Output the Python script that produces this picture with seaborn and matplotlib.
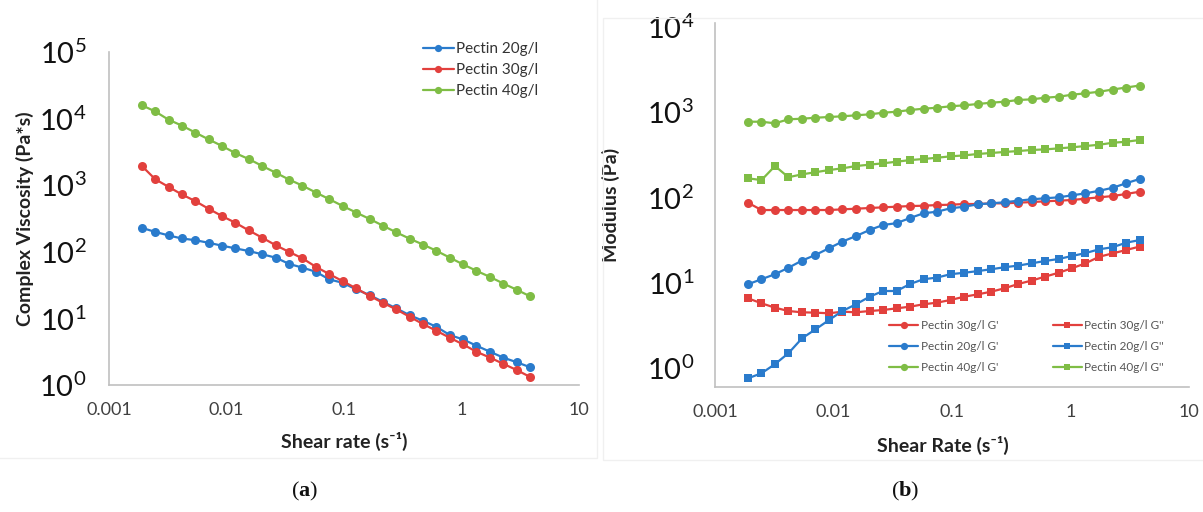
import matplotlib
matplotlib.use("Agg")
import matplotlib.pyplot as plt
import pandas as pd
import seaborn as sns
from matplotlib.patches import Rectangle

# shear rate grid shared by both panels (s-1)
shear_rate = [0.0019, 0.00247, 0.00321, 0.00417, 0.00543, 0.00705, 0.00917, 0.0119,
              0.0155, 0.0202, 0.0262, 0.0341, 0.0443, 0.0576, 0.0749, 0.0973, 0.127,
              0.165, 0.214, 0.278, 0.362, 0.470, 0.611, 0.795, 1.03, 1.34, 1.75, 2.27,
              2.95, 3.84]

# (a) complex viscosity, Pa*s
visc_20 = [230, 200, 177, 159, 150, 137, 124, 113, 103, 92, 82, 66, 58, 50.3, 38.6, 34.4,
           27.3, 22.5, 17.8, 14.2, 11.2, 9.23, 7.5, 5.63, 4.85, 3.9, 3.16, 2.58, 2.2, 1.85]
visc_30 = [1963, 1239, 949, 730, 579, 444, 345, 274, 210, 163, 126, 100, 80, 59.7, 46.4,
           36.4, 28.3, 21.9, 17.2, 13.7, 10.6, 8.24, 6.53, 5.13, 4.08, 3.16, 2.58, 2.08,
           1.68, 1.32]
visc_40 = [16000, 12900, 9700, 7900, 6200, 4900, 3900, 3050, 2480, 1950, 1550, 1220, 990,
           780, 620, 490, 390, 313, 248, 197, 158, 129, 104, 82, 65, 52, 42, 33.5, 27, 21.5]

# (b) storage / loss modulus, Pa
g1_30 = [86.9, 71.3, 71.3, 71.3, 71.3, 71.3, 71.3, 72.6, 73.9, 75.3, 76.7, 78.0, 79.4,
         80.1, 81.6, 82.3, 83.9, 83.9, 85.4, 85.4, 86.9, 88.5, 90.2, 91.8, 93.5, 96.9,
         100.5, 104, 110, 117]
g2_30 = [6.57, 5.74, 5.10, 4.66, 4.50, 4.46, 4.38, 4.58, 4.50, 4.66, 4.79, 5.01, 5.24,
         5.59, 5.84, 6.28, 6.86, 7.31, 7.85, 8.61, 9.67, 10.6, 11.8, 13.1, 14.8, 16.9,
         20.2, 22.1, 24.2, 26.6]
g1_20 = [9.6, 11.0, 12.6, 15.0, 18.2, 21.2, 25.4, 30.4, 35.3, 41.6, 47.6, 50, 57.5, 65.3,
         68.2, 74.7, 78, 83.2, 85.5, 87.9, 91.8, 95.3, 97.9, 100.5, 106, 112, 120, 130,
         147, 165]
g2_20 = [0.757, 0.867, 1.11, 1.49, 2.23, 2.84, 3.65, 4.66, 5.59, 6.86, 8.0, 8.0, 9.67,
         11.0, 11.5, 12.6, 13.1, 13.7, 14.4, 15.2, 15.9, 16.9, 18.0, 19.0, 20.6, 22.3,
         24.7, 26.1, 29.5, 31.7]
g1_40 = [775, 775, 742, 827, 840, 863, 880, 897, 921, 946, 988, 1015, 1063, 1101, 1131,
         1175, 1207, 1250, 1295, 1330, 1393, 1418, 1482, 1522, 1607, 1668, 1742, 1849,
         1951, 2060]
g2_40 = [168, 160, 234, 173, 187, 198, 210, 220, 234, 243, 252, 263, 275, 283, 293, 304,
         312, 324, 333, 342, 351, 361, 367, 377, 388, 402, 416, 439, 451, 473]

x_ticks = [0.001, 0.01, 0.1, 1, 10]
x_ticklabels = ["0.001", "0.01", "0.1", "1", "10"]

BLUE, RED, GREEN = "#2a7bcc", "#e2403d", "#7fbd45"
AXIS = "#c0c0c0"

sns.set_theme(style="white")
plt.rcParams["font.family"] = ["Lato", "DejaVu Sans"]
plt.rcParams["mathtext.fontset"] = "custom"
plt.rcParams["mathtext.rm"] = "Lato"
plt.rcParams["mathtext.bf"] = "Liberation Serif:bold"
plt.rcParams["mathtext.sf"] = "Liberation Serif"

fig = plt.figure(figsize=(12.03, 5.12), dpi=100)
ax1 = fig.add_axes([0.0906, 0.248, 0.3907, 0.650])
ax2 = fig.add_axes([0.5943, 0.2441, 0.394, 0.7109])

# faint chart-area frames
fig.add_artist(Rectangle((-0.01, 0.105), 0.506, 1.0, transform=fig.transFigure,
                         fill=False, edgecolor="#f0f0f0", lw=1))
fig.add_artist(Rectangle((0.501, 0.101), 0.51, 0.864, transform=fig.transFigure,
                         fill=False, edgecolor="#f0f0f0", lw=1))


def draw(ax, y, color, marker, label, ms):
    df = pd.DataFrame({"rate": shear_rate, "val": y})
    sns.lineplot(data=df, x="rate", y="val", ax=ax, color=color, marker=marker,
                 markersize=ms, markeredgewidth=0, linewidth=1.6, label=label,
                 sort=False, estimator=None)


# (a)
draw(ax1, visc_20, BLUE, "o", "Pectin 20g/l", 6.5)
draw(ax1, visc_30, RED, "o", "Pectin 30g/l", 6.5)
draw(ax1, visc_40, GREEN, "o", "Pectin 40g/l", 6.5)

# (b)
draw(ax2, g1_30, RED, "o", "Pectin 30g/l G'", 6.5)
draw(ax2, g1_20, BLUE, "o", "Pectin 20g/l G'", 6.5)
draw(ax2, g1_40, GREEN, "o", "Pectin 40g/l G'", 6.5)
draw(ax2, g2_30, RED, "s", "Pectin 30g/l G''", 6)
draw(ax2, g2_20, BLUE, "s", "Pectin 20g/l G''", 6)
draw(ax2, g2_40, GREEN, "s", "Pectin 40g/l G''", 6)

for ax in (ax1, ax2):
    ax.set_xscale("log")
    ax.set_yscale("log")
    ax.set_xlim(0.001, 10)
    ax.set_xticks(x_ticks)
    ax.set_xticklabels(x_ticklabels)
    ax.minorticks_off()
    for s in ("top", "right"):
        ax.spines[s].set_visible(False)
    for s in ("left", "bottom"):
        ax.spines[s].set_color(AXIS)
        ax.spines[s].set_linewidth(1.2)
    ax.tick_params(axis="x", length=5, width=1, color=AXIS, pad=7,
                   labelsize=13, labelcolor="#404040")
    ax.tick_params(axis="y", length=5, width=1, color=AXIS, pad=11,
                   labelsize=21, labelcolor="#111111")

ax1.set_ylim(1, 1e5)
ax1.set_yticks([1, 10, 100, 1e3, 1e4, 1e5])
ax1.set_yticklabels([r"$\mathregular{10^{%d}}$" % i for i in range(6)])
ax1.minorticks_off()

ax2.set_ylim(0.598, 11140)
ax2.set_yticks([1, 10, 100, 1e3, 1e4])
ax2.set_yticklabels([r"$\mathregular{10^{%d}}$" % i for i in range(5)])
ax2.minorticks_off()
ax2.tick_params(axis="y", length=0, pad=15)

ax1.set_xlabel("Shear rate (s\u207b\u00b9)", fontsize=14, fontweight="bold", color="#222222")
ax1.set_ylabel("Complex Viscosity (Pa*s)", fontsize=14, fontweight="bold", color="#222222")
ax2.set_xlabel("Shear Rate (s\u207b\u00b9)", fontsize=14, fontweight="bold", color="#222222")
ax2.set_ylabel("Modulus (Pa)", fontsize=14, fontweight="bold", color="#222222")
ax1.xaxis.set_label_coords(0.5, -0.14)
ax1.yaxis.set_label_coords(-0.16, 0.5)
ax2.xaxis.set_label_coords(0.48, -0.135)
ax2.yaxis.set_label_coords(-0.2, 0.5)

leg1 = ax1.legend(loc="upper left", bbox_to_anchor=(0.668, 1.03), frameon=False,
                  fontsize=11, handlelength=2.0, handletextpad=0.15, borderpad=0,
                  borderaxespad=0, labelspacing=0.45, markerscale=0.8)
for t in leg1.get_texts():
    t.set_color("#333333")

h, lab = ax2.get_legend_handles_labels()
leg2 = ax2.legend(h, lab, ncol=2, loc="upper left", bbox_to_anchor=(0.367, 0.185),
                  frameon=False, fontsize=8.5, handlelength=2.5, handletextpad=0.2,
                  borderpad=0, borderaxespad=0, labelspacing=0.85, columnspacing=4.6,
                  markerscale=0.8)
for t in leg2.get_texts():
    t.set_color("#555555")

fig.text(0.2535, 0.03, r"$\mathsf{(}\mathbf{a}\mathsf{)}$", fontsize=16, ha="center",
         color="#111111")
fig.text(0.752, 0.03, r"$\mathsf{(}\mathbf{b}\mathsf{)}$", fontsize=16, ha="center",
         color="#111111")

fig.savefig("out.png", dpi=100)
